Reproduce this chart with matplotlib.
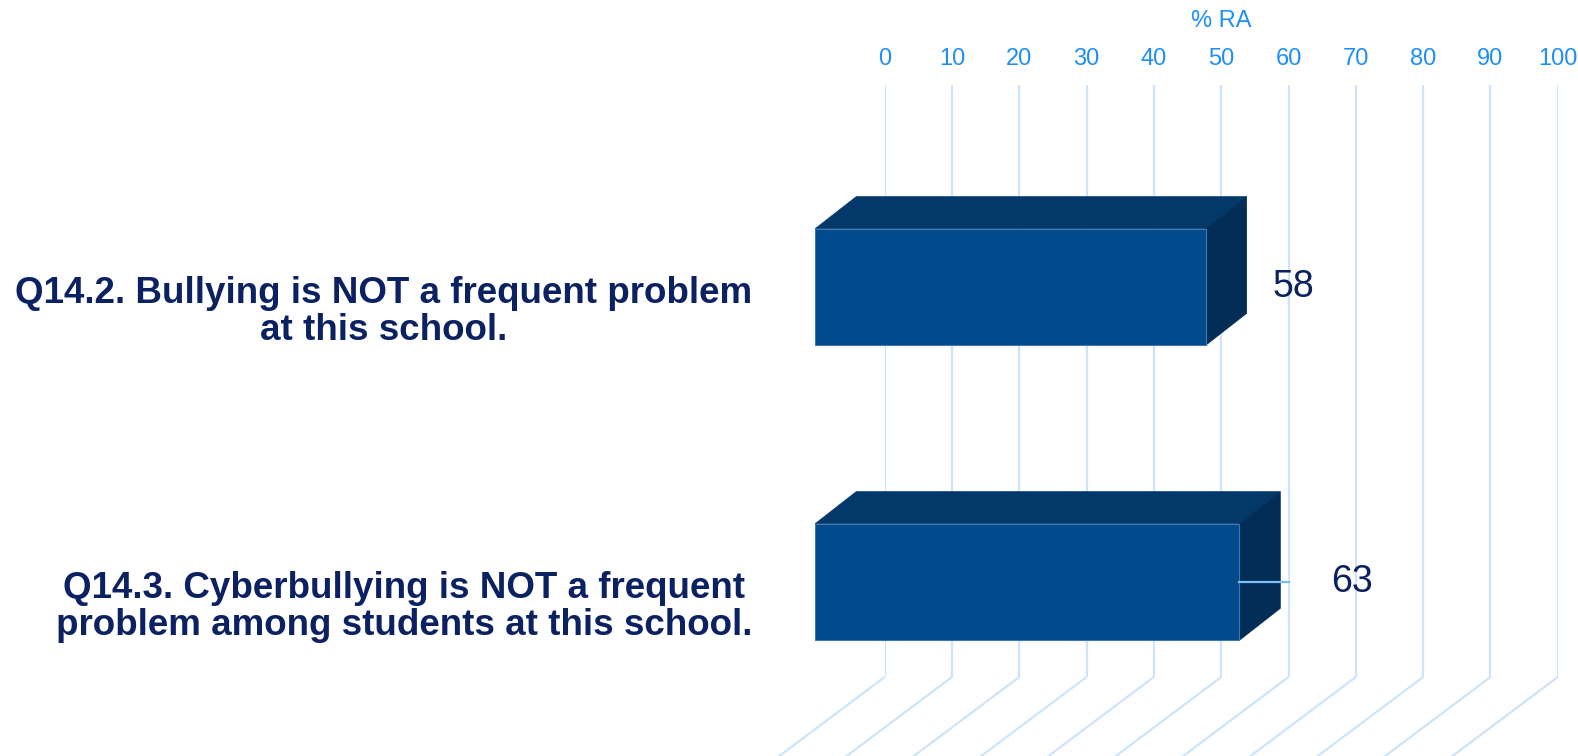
import matplotlib
matplotlib.use("Agg")
import matplotlib.pyplot as plt
from matplotlib.patches import Polygon

plt.rcParams['font.family'] = ['Liberation Sans', 'DejaVu Sans']

# ---- data ----
categories = [
    "Q14.2. Bullying is NOT a frequent problem\nat this school.",
    "Q14.3. Cyberbullying is NOT a frequent\nproblem among students at this school.",
]
values = [58, 63]
ticks = [0, 10, 20, 30, 40, 50, 60, 70, 80, 90, 100]
axis_title = "% RA"

# ---- styling ----
FRONT = "#014A8C"
TOP = "#03386B"
SIDE = "#012D57"
GRID = "#CDE4FD"
LEADER = "#7DBDF3"
TICK_COLOR = "#1F8FF5"
TEXT_NAVY = "#0B2161"

W, H, DPI = 1578, 756, 100
fig = plt.figure(figsize=(W / DPI, H / DPI), dpi=DPI)

# pixel geometry of the projection
px_per_unit = 6.732          # value units -> pixels
front_zero_px = 815.2        # x pixel of value 0 on the front plane
wall_zero_px = 884.6         # x pixel of value 0 on the back wall
row_px = 295.0               # pixels between category rows
first_row_px = 287.0         # y pixel of first row centre (front plane)
wall_top_px, wall_bottom_px = 85.0, 677.0

# main axes: x in value units (front plane), y in category rows (inverted)
ax = fig.add_axes([0, 0, 1, 1], zorder=2)
ax.set_xlim(-front_zero_px / px_per_unit, (W - front_zero_px) / px_per_unit)
ax.set_ylim((H - first_row_px) / row_px, -first_row_px / row_px)
ax.axis("off")
ax.patch.set_alpha(0)

# back wall axes with gridlines and top tick labels
wall = fig.add_axes([wall_zero_px / W, 1 - wall_bottom_px / H,
                     100 * px_per_unit / W, (wall_bottom_px - wall_top_px) / H],
                    zorder=1)
wall.set_xlim(0, 100)
wall.set_ylim(0, 1)
wall.set_xticks(ticks)
wall.set_xticklabels([str(t) for t in ticks])
wall.xaxis.tick_top()
wall.xaxis.set_label_position("top")
wall.tick_params(axis="x", length=0, pad=11, labelsize=17, labelcolor=TICK_COLOR)
wall.set_yticks([])
wall.set_xlabel(axis_title, fontsize=17, color=TICK_COLOR, labelpad=15)
wall.grid(axis="x", color=GRID, linewidth=1.6)
for s in wall.spines.values():
    s.set_visible(False)
wall.patch.set_alpha(0)

# floor lines running forward from the bottom of each wall gridline
wall_shift = (wall_zero_px - front_zero_px) / px_per_unit
y_floor = (wall_bottom_px - first_row_px) / row_px
slope = 0.75 * px_per_unit / row_px
run = 30
for t in ticks:
    x0 = t + wall_shift
    ax.plot([x0, x0 - run], [y_floor, y_floor + slope * run],
            color=GRID, lw=1.6, solid_capstyle="butt", zorder=1)

# 3D bars
bar_h = 116.7 / row_px
depth_x = 41.0 / px_per_unit
depth_y = 32.0 / row_px
for i, v in enumerate(values):
    top_y = i - bar_h / 2
    bot_y = i + bar_h / 2
    top = Polygon([(0, top_y), (v, top_y), (v + depth_x, top_y - depth_y),
                   (depth_x, top_y - depth_y)], closed=True,
                  facecolor=TOP, edgecolor=TOP, lw=0.5, zorder=3)
    side = Polygon([(v, top_y), (v + depth_x, top_y - depth_y),
                    (v + depth_x, bot_y - depth_y), (v, bot_y)], closed=True,
                   facecolor=SIDE, edgecolor=SIDE, lw=0.5, zorder=3)
    ax.add_patch(top)
    ax.add_patch(side)
    ax.add_patch(plt.Rectangle((0, top_y), v, bar_h, facecolor=FRONT,
                               edgecolor="#3F78B5", lw=0.8, zorder=4))

# leader line on the second bar
leader_len = [0, 7.4]
for i, v in enumerate(values):
    if leader_len[i] > 0:
        ax.plot([v, v + leader_len[i]], [i, i], color=LEADER, lw=1.6, zorder=5)

# value labels
label_offset = [13.1, 16.7]
for i, v in enumerate(values):
    ax.text(v + label_offset[i], i, f"{v}", fontsize=27, color=TEXT_NAVY,
            ha="center", va="center", zorder=6)

# category labels
for i, c in enumerate(categories):
    ax.text(-9.4, i + 0.085, c, fontsize=26.5, fontweight="bold", color=TEXT_NAVY,
            ha="right", va="center", multialignment="center", linespacing=1.08,
            zorder=6)

fig.savefig("out.png", dpi=DPI)
